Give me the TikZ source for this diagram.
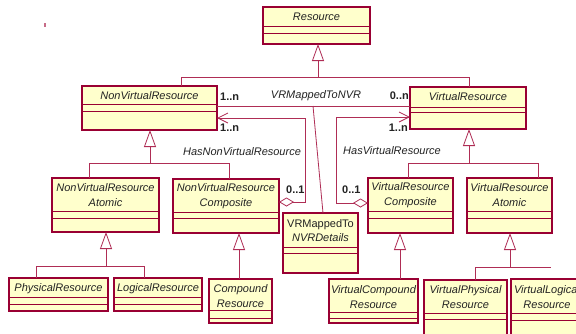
\documentclass[tikz,border=0pt]{standalone}
\usepackage{fontspec}
\setmainfont{Liberation Sans}
\usetikzlibrary{arrows.meta,calc}
\definecolor{umlborder}{RGB}{153,0,51}
\definecolor{umlline}{RGB}{175,45,85}
\definecolor{umlfill}{RGB}{255,255,204}
\definecolor{umltext}{RGB}{35,35,35}
% name, x1, y1, x2, y2, divider1, divider2, text y, text
\newcommand\umlclass[9]{%
  \node[clsbox, anchor=north west, minimum width={#4-#2}, minimum height={#5-#3}] (#1) at (#2,#3) {};
  \draw[divline] (#2,#6) -- (#4,#6);
  \draw[divline] (#2,#7) -- (#4,#7);
  \node[clsname] (#1-name) at ({(#2+#4)/2},#8) {#9};
}
\begin{document}
\begin{tikzpicture}[x=1pt,y=-1pt,
  clsbox/.style={rectangle, draw=umlborder, fill=umlfill, line width=1.3pt, inner sep=0pt, outer sep=0pt},
  divline/.style={draw=umlborder, line width=0.9pt},
  clsname/.style={font=\fontsize{11}{14.5}\selectfont\itshape, text=umltext, align=center, inner sep=0pt},
  conn/.style={draw=umlline, line width=0.8pt},
  gen/.style={conn, -{Triangle[fill=white, length=17pt, width=12pt]}},
  assocline/.style={conn, {Diamond[fill=white, length=15pt, width=9pt]}-{Straight Barb[length=10pt, width=10pt]}},
  mult/.style={font=\fontsize{11}{13}\selectfont\bfseries, text=umltext, inner sep=0pt},
  assoc/.style={font=\fontsize{11}{13}\selectfont\itshape, text=umltext, inner sep=0pt}
]
\useasboundingbox (0,0) rectangle (576,333);
\fill[white] (0,0) rectangle (576,333);
\clip (0,0) rectangle (576,333);

\fill[umlline!70] (44,23) rectangle (45.5,26.5);

\umlclass{res}{263}{7}{370}{44}{26}{33}{17}{Resource}
\umlclass{nvr}{82}{86}{217}{130}{104.5}{111.5}{96}{NonVirtualResource}
\umlclass{vr}{410}{87}{526}{129}{107.5}{112.3}{97}{VirtualResource}
\umlclass{nvra}{52}{178}{159}{232}{211}{218}{195}{NonVirtualResource\\Atomic}
\umlclass{nvrc}{173}{179}{279}{233}{212}{218}{196}{NonVirtualResource\\Composite}
\umlclass{vrc}{368}{178}{453}{233}{211}{218}{195}{VirtualResource\\Composite}
\umlclass{vra}{467}{178}{552}{233}{211}{218}{195}{VirtualResource\\Atomic}
\umlclass{det}{283}{213}{358}{273}{247}{253}{230.5}{\upshape VRMappedTo\\NVRDetails}
\umlclass{phy}{9}{278}{108}{311}{297}{304}{288.5}{PhysicalResource}
\umlclass{log}{114}{278}{202}{311}{297}{304}{288.5}{LogicalResource}
\umlclass{cmp}{209}{279}{272}{323}{310}{318}{296}{Compound\\Resource}
\umlclass{vcmp}{329}{279}{418}{323}{312}{318}{297}{VirtualCompound\\Resource}
\umlclass{vphy}{424}{280}{507}{345}{313}{319}{297}{VirtualPhysical\\Resource}
\umlclass{vlog}{511}{279}{583}{345}{313}{320}{297}{VirtualLogical\\Resource}

% generalization: Resource
\coordinate (rbL) at (181,77);
\coordinate (rbM) at (318,77);
\coordinate (rbR) at (469,77);
\draw[gen] (rbM) -- (rbM |- res.south);
\draw[conn] (nvr.north -| rbL) -- (rbL) -- (rbR) -- (vr.north -| rbR);

% generalization: NonVirtualResource
\coordinate (nbL) at (89,163);
\coordinate (nbM) at (150,163);
\coordinate (nbR) at (229,163);
\draw[gen] (nbM) -- (nbM |- nvr.south);
\draw[conn] (nvra.north -| nbL) -- (nbL) -- (nbR) -- (nvrc.north -| nbR);

% generalization: VirtualResource
\coordinate (vbL) at (408,163);
\coordinate (vbM) at (469,163);
\coordinate (vbR) at (538,163);
\draw[gen] (vbM) -- (vbM |- vr.south);
\draw[conn] (vrc.north -| vbL) -- (vbL) -- (vbR) -- (vra.north -| vbR);

% generalization: NonVirtualResourceAtomic
\coordinate (abL) at (36,266);
\coordinate (abM) at (106,266);
\coordinate (abR) at (144,266);
\draw[gen] (abM) -- (abM |- nvra.south);
\draw[conn] (phy.north -| abL) -- (abL) -- (abR) -- (log.north -| abR);

% generalization: NonVirtualResourceComposite
\coordinate (cbM) at (239,279);
\draw[gen] (cmp.north -| cbM) -- (nvrc.south -| cbM);

% generalization: VirtualResourceComposite
\coordinate (vcM) at (400,279);
\draw[gen] (vcmp.north -| vcM) -- (vrc.south -| vcM);

% generalization: VirtualResourceAtomic
\coordinate (xbL) at (475,267);
\coordinate (xbM) at (510,267);
\coordinate (xbR) at (551,267);
\draw[gen] (xbM) -- (xbM |- vra.south);
\draw[conn] (vphy.north -| xbL) -- (xbL) -- (xbR);

% VRMappedToNVR
\coordinate (mp) at (313,106);
\draw[conn] (nvr.east |- mp) -- (vr.west |- mp);
\draw[conn] (mp) -- ($(det.north west)+(40,0)$);

% HasNonVirtualResource
\coordinate (hn1) at (305,202);
\coordinate (hn2) at (305,118);
\draw[assocline] (nvrc.east |- hn1) -- (hn1) -- (hn2) -- (nvr.east |- hn2);

% HasVirtualResource
\coordinate (hv1) at (336,203);
\coordinate (hv2) at (336,117);
\draw[assocline] (vrc.west |- hv1) -- (hv1) -- (hv2) -- (vr.west |- hv2);

% labels
\node[mult, anchor=west] (m1) at (220,97) {1..n};
\node[mult, anchor=west] (m2) at (220,128) {1..n};
\node[mult, anchor=east] (m3) at (409,96) {0..n};
\node[mult, anchor=east] (m4) at (408,128) {1..n};
\node[mult, anchor=west] (m5) at (286,190) {0..1};
\node[mult, anchor=west] (m6) at (342,190) {0..1};
\node[assoc] (a1) at (316,96) {VRMappedToNVR};
\node[assoc] (a2) at (242,152) {HasNonVirtualResource};
\node[assoc] (a3) at (392,151) {HasVirtualResource};
\end{tikzpicture}
\end{document}
